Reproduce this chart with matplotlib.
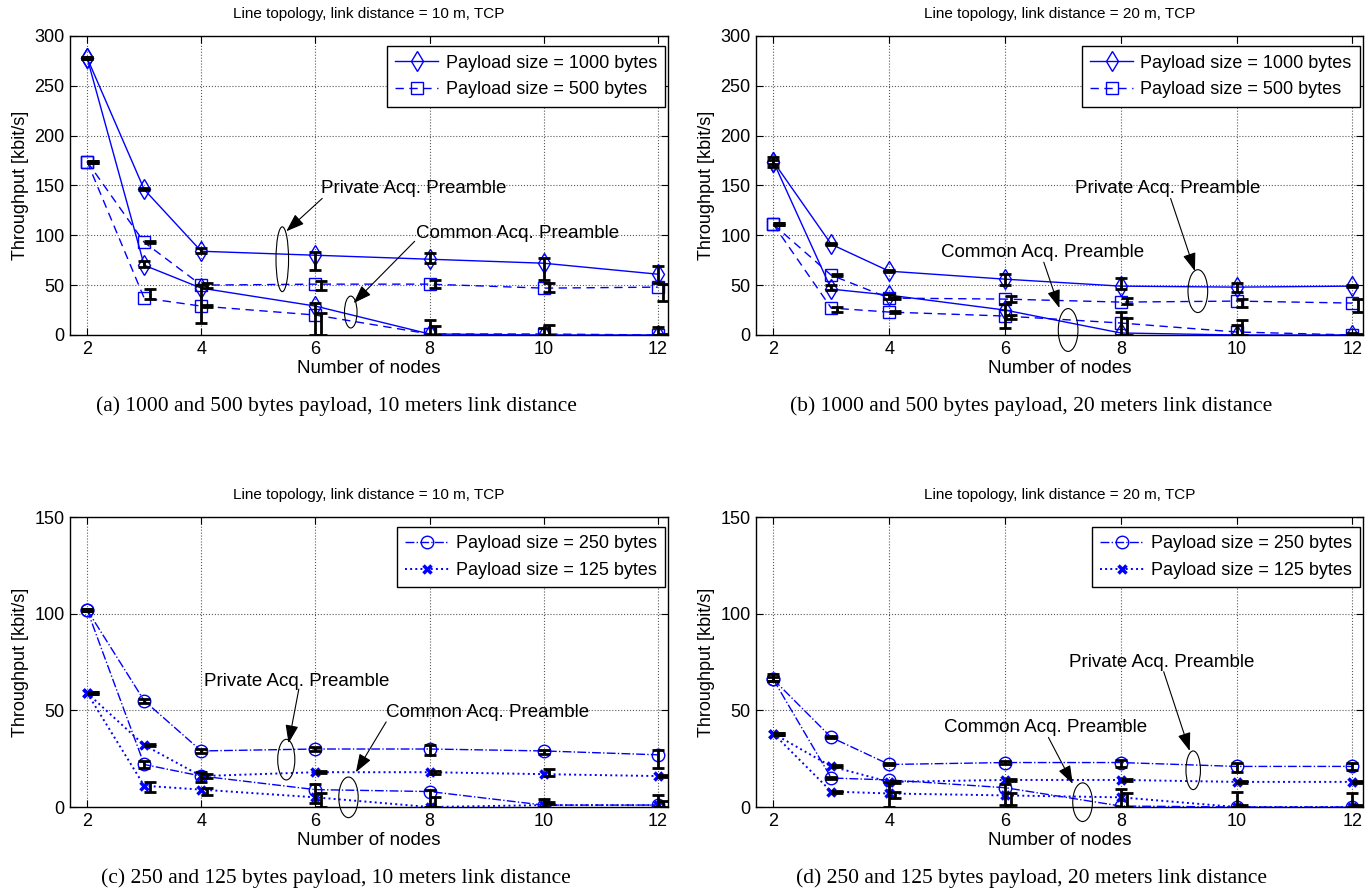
import numpy as np
import matplotlib
matplotlib.use('Agg')
import matplotlib.pyplot as plt
from matplotlib.patches import Ellipse

plt.rcParams['font.family'] = ['Liberation Sans', 'DejaVu Sans']

nodes = [2, 3, 4, 6, 8, 10, 12]

# (a) 10 m, 1000 / 500 bytes
a_1000_priv = [278, 146, 84, 80, 76, 72, 61]
a_1000_comm = [278, 70, 47, 29, 1, 0, 0]
a_500_priv = [174, 93, 50, 51, 51, 47, 48]
a_500_comm = [174, 37, 29, 20, 1, 1, 0]
a_1000_priv_lo = [277, 145, 82, 65, 72, 55, 52]
a_1000_priv_hi = [279, 147, 87, 83, 82, 77, 69]
a_1000_comm_lo = [277, 68, 12, 0, 0, 0, 0]
a_1000_comm_hi = [279, 74, 50, 32, 15, 7, 8]
a_500_priv_lo = [173, 92, 47, 45, 47, 43, 34]
a_500_priv_hi = [175, 94, 52, 54, 55, 52, 51]
a_500_comm_lo = [173, 36, 28, 0, 0, 0, 0]
a_500_comm_hi = [175, 46, 30, 22, 9, 10, 1]

# (b) 20 m, 1000 / 500 bytes
b_1000_priv = [174, 91, 64, 56, 49, 48, 49]
b_1000_comm = [174, 46, 40, 25, 2, 0, 0]
b_500_priv = [111, 60, 37, 36, 33, 34, 32]
b_500_comm = [111, 27, 23, 19, 12, 3, 0]
b_1000_priv_lo = [169, 90, 63, 50, 46, 43, 48]
b_1000_priv_hi = [179, 92, 65, 61, 57, 52, 50]
b_1000_comm_lo = [172, 45, 36, 7, 0, 0, 0]
b_1000_comm_hi = [176, 50, 41, 31, 23, 10, 2]
b_500_priv_lo = [110, 59, 36, 33, 31, 28, 23]
b_500_priv_hi = [112, 61, 38, 39, 37, 36, 36]
b_500_comm_lo = [110, 23, 22, 16, 0, 0, 0]
b_500_comm_hi = [112, 28, 24, 20, 17, 15, 1]

# (c) 10 m, 250 / 125 bytes
c_250_priv = [102, 55, 29, 30, 30, 29, 27]
c_250_comm = [102, 22, 16, 9, 8, 1, 1]
c_125_priv = [59, 32, 16, 18, 18, 17, 16]
c_125_comm = [59, 11, 9, 5, 0, 1, 1]
c_250_priv_lo = [101.5, 54, 28, 29, 27, 27.5, 20]
c_250_priv_hi = [102.5, 56, 30, 31, 32, 29.5, 29.5]
c_250_comm_lo = [101.5, 20, 13, 2, 0, 0, 0]
c_250_comm_hi = [102.5, 24, 18, 12, 9, 4, 6]
c_125_priv_lo = [58.5, 31.5, 15, 17.5, 17, 16, 15.5]
c_125_priv_hi = [59.5, 32.5, 17, 18.5, 18.5, 19.5, 16.5]
c_125_comm_lo = [58.5, 8, 6, 0, 0, 1.5, 0]
c_125_comm_hi = [59.5, 13, 10, 7, 5, 2.5, 3]

# (d) 20 m, 250 / 125 bytes
d_250_priv = [66, 36, 22, 23, 23, 21, 21]
d_250_comm = [66, 15, 14, 10, 0.5, 0, 0]
d_125_priv = [38, 21, 13, 14, 14, 13, 13]
d_125_comm = [38, 8, 7, 6, 5, 0, 0]
d_250_priv_lo = [65, 35.5, 21.5, 22.5, 20.5, 18, 19]
d_250_priv_hi = [69, 36.5, 23, 24, 24.5, 23, 23]
d_250_comm_lo = [65, 14.5, 0, 1, 0, 0, 0]
d_250_comm_hi = [67, 15.5, 13, 12, 9.5, 8, 7.5]
d_125_priv_lo = [37.5, 20.5, 12.5, 13.5, 13.5, 12.5, 12.5]
d_125_priv_hi = [38.5, 21.5, 13.5, 14.5, 14.5, 13.5, 13.5]
d_125_comm_lo = [37.5, 7.5, 4.5, 1, 0, 0, 0]
d_125_comm_hi = [38.5, 8.5, 8, 7, 7, 1, 1]

captions = ['(a) 1000 and 500 bytes payload, 10 meters link distance',
            '(b) 1000 and 500 bytes payload, 20 meters link distance',
            '(c) 250 and 125 bytes payload, 10 meters link distance',
            '(d) 250 and 125 bytes payload, 20 meters link distance']

blue = (0, 0, 1)


def errbars(ax, x, lo, hi):
    lo = np.array(lo, float)
    hi = np.array(hi, float)
    ax.errorbar(x, (lo + hi) / 2, yerr=(hi - lo) / 2, fmt='none', ecolor='k',
                elinewidth=2, capsize=4, capthick=2, zorder=5)


def series(ax, y, ls, mk, ms, label=None, mew=1):
    fc = 'none' if mk != 'x' else blue
    lw = 1.4 if ls == ':' else 1
    ax.plot(nodes, y, color=blue, ls=ls, lw=lw, marker=mk, ms=ms, mfc=fc,
            mec=blue, mew=mew, label=label, zorder=3)


def setup(ax, ymax, step, title):
    ax.set_xlim(1.7, 12.18)
    ax.set_ylim(0, ymax)
    ax.set_xticks([2, 4, 6, 8, 10, 12])
    ax.set_yticks(np.arange(0, ymax + 1, step))
    ax.grid(True, ls=':', color='0.35', lw=0.8)
    ax.set_axisbelow(True)
    ax.tick_params(direction='in', top=True, right=True, length=5, labelsize=13, pad=4)
    ax.set_xlabel('Number of nodes', fontsize=13.5, labelpad=2)
    ax.set_ylabel('Throughput [kbit/s]', fontsize=13, labelpad=4)
    ax.set_title(title, fontsize=11, pad=13)
    for s in ax.spines.values():
        s.set_linewidth(1)
    leg = ax.legend(loc='upper right', bbox_to_anchor=(0.995, 0.965), borderaxespad=0,
                    fontsize=13, handlelength=2.4, fancybox=False, framealpha=1,
                    edgecolor='k', numpoints=1, borderpad=0.45, labelspacing=0.55,
                    handletextpad=0.4)
    leg.get_frame().set_linewidth(1)


def note(ax, text, txy, start, end, exy, w, h):
    ax.text(txy[0], txy[1], text, fontsize=13.5, va='center', ha='left')
    ax.annotate('', xy=end, xytext=start,
                arrowprops=dict(arrowstyle='-|>,head_length=0.7,head_width=0.25',
                                color='k', lw=0.8, mutation_scale=16, shrinkA=0, shrinkB=0))
    ax.add_patch(Ellipse(exy, w, h, fill=False, ec='k', lw=0.8, clip_on=False, zorder=6))


fig = plt.figure(figsize=(13.67, 8.94), dpi=100)
ax_a = fig.add_axes([0.0512, 0.6253, 0.4375, 0.3345])
ax_b = fig.add_axes([0.5530, 0.6253, 0.4440, 0.3345])
ax_c = fig.add_axes([0.0512, 0.0973, 0.4375, 0.3244])
ax_d = fig.add_axes([0.5530, 0.0973, 0.4440, 0.3244])
x2 = np.array(nodes) + 0.1

# (a)
series(ax_a, a_1000_priv, '-', 'd', 10, 'Payload size = 1000 bytes')
series(ax_a, a_1000_comm, '-', 'd', 10)
series(ax_a, a_500_priv, (0, (6, 4)), 's', 8, 'Payload size = 500 bytes')
series(ax_a, a_500_comm, (0, (6, 4)), 's', 8)
errbars(ax_a, nodes, a_1000_priv_lo, a_1000_priv_hi)
errbars(ax_a, nodes, a_1000_comm_lo, a_1000_comm_hi)
errbars(ax_a, x2, a_500_priv_lo, a_500_priv_hi)
errbars(ax_a, x2, a_500_comm_lo, a_500_comm_hi)
setup(ax_a, 300, 50, 'Line topology, link distance = 10 m, TCP')
note(ax_a, 'Private Acq. Preamble', (6.1, 147), (6.12, 137), (5.49, 104), (5.42, 76), 0.22, 65)
note(ax_a, 'Common Acq. Preamble', (7.76, 102), (7.74, 94), (6.67, 32), (6.62, 23), 0.22, 32)

# (b)
series(ax_b, b_1000_priv, '-', 'd', 10, 'Payload size = 1000 bytes')
series(ax_b, b_1000_comm, '-', 'd', 10)
series(ax_b, b_500_priv, (0, (6, 4)), 's', 8, 'Payload size = 500 bytes')
series(ax_b, b_500_comm, (0, (6, 4)), 's', 8)
errbars(ax_b, nodes, b_1000_priv_lo, b_1000_priv_hi)
errbars(ax_b, nodes, b_1000_comm_lo, b_1000_comm_hi)
errbars(ax_b, x2, b_500_priv_lo, b_500_priv_hi)
errbars(ax_b, x2, b_500_comm_lo, b_500_comm_hi)
setup(ax_b, 300, 50, 'Line topology, link distance = 20 m, TCP')
note(ax_b, 'Private Acq. Preamble', (7.21, 147), (8.86, 137), (9.28, 64), (9.33, 44), 0.34, 43)
note(ax_b, 'Common Acq. Preamble', (4.89, 83), (6.67, 73), (6.94, 27), (7.09, 5), 0.34, 43)

# (c)
series(ax_c, c_250_priv, '-.', 'o', 9, 'Payload size = 250 bytes')
series(ax_c, c_250_comm, '-.', 'o', 9)
series(ax_c, c_125_priv, ':', 'x', 6, 'Payload size = 125 bytes', mew=2.5)
series(ax_c, c_125_comm, ':', 'x', 6, mew=2.5)
errbars(ax_c, nodes, c_250_priv_lo, c_250_priv_hi)
errbars(ax_c, nodes, c_250_comm_lo, c_250_comm_hi)
errbars(ax_c, x2, c_125_priv_lo, c_125_priv_hi)
errbars(ax_c, x2, c_125_comm_lo, c_125_comm_hi)
setup(ax_c, 150, 50, 'Line topology, link distance = 10 m, TCP')
note(ax_c, 'Private Acq. Preamble', (4.05, 65), (5.71, 61), (5.53, 33), (5.49, 24.5), 0.3, 21)
note(ax_c, 'Common Acq. Preamble', (7.24, 49), (7.24, 44), (6.71, 18), (6.58, 5), 0.34, 21)

# (d)
series(ax_d, d_250_priv, '-.', 'o', 9, 'Payload size = 250 bytes')
series(ax_d, d_250_comm, '-.', 'o', 9)
series(ax_d, d_125_priv, ':', 'x', 6, 'Payload size = 125 bytes', mew=2.5)
series(ax_d, d_125_comm, ':', 'x', 6, mew=2.5)
errbars(ax_d, nodes, d_250_priv_lo, d_250_priv_hi)
errbars(ax_d, nodes, d_250_comm_lo, d_250_comm_hi)
errbars(ax_d, x2, d_125_priv_lo, d_125_priv_hi)
errbars(ax_d, x2, d_125_comm_lo, d_125_comm_hi)
setup(ax_d, 150, 50, 'Line topology, link distance = 20 m, TCP')
note(ax_d, 'Private Acq. Preamble', (7.11, 75), (8.74, 70), (9.19, 29), (9.25, 19), 0.25, 20)
note(ax_d, 'Common Acq. Preamble', (4.94, 41), (6.75, 36), (7.17, 12), (7.34, 2.5), 0.34, 20)

cap_pos = [(336, 406), (1031, 406), (336, 878), (1032, 878)]
for (px, py), txt in zip(cap_pos, captions):
    fig.text(px / 1367, 1 - py / 894, txt, ha='center', va='center',
             fontsize=15.5, family=['Liberation Serif', 'DejaVu Serif'])

fig.savefig('out.png', dpi=100)
